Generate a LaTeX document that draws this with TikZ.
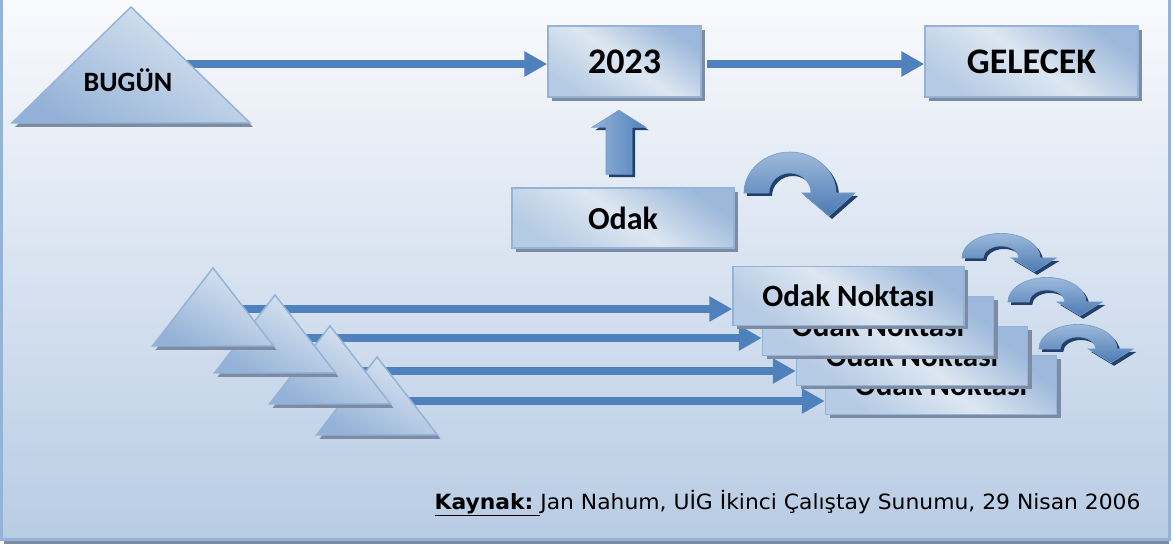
\documentclass[tikz,border=0pt]{standalone}
\usepackage{fontspec}
\newfontfamily\calibri{Carlito}
\newfontfamily\dejavu{DejaVu Sans}[FakeStretch=1.04]
\usepackage{tikz}
\usetikzlibrary{calc}
\usetikzlibrary{shapes.geometric,arrows.meta}
\usetikzlibrary{shadows}

\definecolor{okmavi}{HTML}{4F81BD}
\definecolor{kenar}{HTML}{95B3D7}
\definecolor{acik}{HTML}{DDE7F2}
\definecolor{koyu}{HTML}{9CB8DA}
\definecolor{golge}{HTML}{7D8CA3}
\definecolor{zeminust}{HTML}{F9FAFD}
\definecolor{zeminalt}{HTML}{B8CCE4}
\definecolor{koyugolge}{HTML}{22406A}

\pgfdeclarelayer{zemin}
\pgfdeclarelayer{arka}
\pgfsetlayers{zemin,arka,main}

\tikzset{
  kutu/.style={rectangle, draw=kenar, line width=1.5pt, inner sep=0pt,
    top color=koyu, bottom color=koyu!60!acik, middle color=acik, shading angle=-35,
    drop shadow={shadow xshift=4pt, shadow yshift=-4pt, fill=golge, opacity=1},
    font=\calibri\bfseries},
  ucgen/.style={isosceles triangle, isosceles triangle stretches, shape border rotate=90,
    draw=kenar, line width=1.5pt, inner sep=0pt, anchor=apex,
    top color=acik, bottom color=koyu!90!okmavi, shading angle=-30,
    drop shadow={shadow xshift=3pt, shadow yshift=-4pt, fill=golge, opacity=1}},
  okcizgi/.style={okmavi, line width=8pt, -{Triangle[length=23pt, width=24pt]}},
  blokok/.style={draw=okmavi!80!white, line width=0.6pt, left color=okmavi!60!white, right color=okmavi,
    drop shadow={shadow xshift=3pt, shadow yshift=-3pt, fill=koyugolge, opacity=1}},
  donus/.pic={
    \shade[blokok, top color=okmavi!55!white, bottom color=okmavi!95!black]
      (-46,0) arc[start angle=180, end angle=0, x radius=46, y radius=41]
      -- (65,0) -- (39,-23) -- (12,0) -- (21,0)
      arc[start angle=0, end angle=180, x radius=21, y radius=20] -- cycle;
  }
}

\begin{document}
\begin{tikzpicture}[x=1pt, y=1pt]
        \useasboundingbox (0,0) rectangle (1173,544);

        %ARKA PLAN
        \begin{pgfonlayer}{zemin}
        \fill[golge] (4,0) rectangle (1169,540);
        \shade[top color=zeminust, bottom color=zeminalt, draw=kenar, line width=3pt] (1.5,5) rectangle (1169.5,547);
        \end{pgfonlayer}

        %UST SIRA
        \node[ucgen, minimum width=238pt, minimum height=116pt] (bugun) at (131,539) {};
        \node[font=\calibri\bfseries\fontsize{28}{32}\selectfont] (bugunyazi) at (128,464) {BUGÜN};
        \node[kutu, minimum width=153pt, minimum height=71pt, font=\calibri\bfseries\fontsize{36}{40}\selectfont] (y2023) at (624.5,482.5) {2023};
        \node[kutu, minimum width=213pt, minimum height=71pt, font=\calibri\bfseries\fontsize{36}{40}\selectfont] (gelecek) at (1031.5,482.5) {GELECEK};

        %ODAK
        \node[kutu, minimum width=222pt, minimum height=60pt, font=\calibri\bfseries\fontsize{32}{36}\selectfont] (odak) at (623,326) {Odak};
        \shade[blokok] ($(odak.north)+(-17,13)$) -- ++(0,47) -- ++(-14,0) -- ++(27,17) -- ++(27,-17) -- ++(-14,0) -- ++(0,-47) -- cycle;

        %DONUS OKLARI
        \pic at (790,351) {donus};
        \pic[xscale=0.85, yscale=0.6] at (1001,286) {donus};
        \pic[xscale=0.85, yscale=0.6] at (1047,242) {donus};
        \pic[xscale=0.85, yscale=0.6] at (1078,195) {donus};

        %UCGENLER
        \node[ucgen, minimum width=121pt, minimum height=78pt] (t4) at (377,189) {};
        \node[ucgen, minimum width=121pt, minimum height=78pt] (t3) at (330,220) {};
        \node[ucgen, minimum width=121pt, minimum height=78pt] (t2) at (275,251) {};
        \node[ucgen, minimum width=121pt, minimum height=78pt] (t1) at (213,278) {};

        %ODAK NOKTALARI
        \node[kutu, minimum width=231pt, minimum height=59pt, font=\calibri\bfseries\fontsize{31}{35}\selectfont] (n4) at (941,159) {Odak Noktası};
        \node[kutu, minimum width=231pt, minimum height=59pt, font=\calibri\bfseries\fontsize{31}{35}\selectfont] (n3) at (912,188) {Odak Noktası};
        \node[kutu, minimum width=231pt, minimum height=59pt, font=\calibri\bfseries\fontsize{31}{35}\selectfont] (n2) at (878,218) {Odak Noktası};
        \node[kutu, minimum width=231pt, minimum height=59pt, font=\calibri\bfseries\fontsize{31}{35}\selectfont] (n1) at (848.5,248) {Odak Noktası};

        %OKLAR
        \begin{pgfonlayer}{arka}
        \draw[okcizgi] ([yshift=-59pt]bugun.apex) coordinate (b0) -- (b0 -| y2023.west);
        \draw[okcizgi, shorten <=5pt] (y2023.east |- b0) -- (gelecek.west |- b0);
        \draw[okcizgi] ([yshift=-43pt]t1.apex) coordinate (c1) -- (c1 -| n1.west);
        \draw[okcizgi] ([yshift=-45pt]t2.apex) coordinate (c2) -- (c2 -| n2.west);
        \draw[okcizgi] ([yshift=-47pt]t3.apex) coordinate (c3) -- (c3 -| n3.west);
        \draw[okcizgi] ([yshift=-46pt]t4.apex) coordinate (c4) -- (c4 -| n4.west);
        \end{pgfonlayer}

        %KAYNAK
        \node[anchor=base east, font=\dejavu\fontsize{21}{25}\selectfont] (kaynak) at (1144,35) {\underline{\textbf{Kaynak:}\ }Jan Nahum, UİG İkinci Çalıştay Sunumu, 29 Nisan 2006};
\end{tikzpicture}
\end{document}
